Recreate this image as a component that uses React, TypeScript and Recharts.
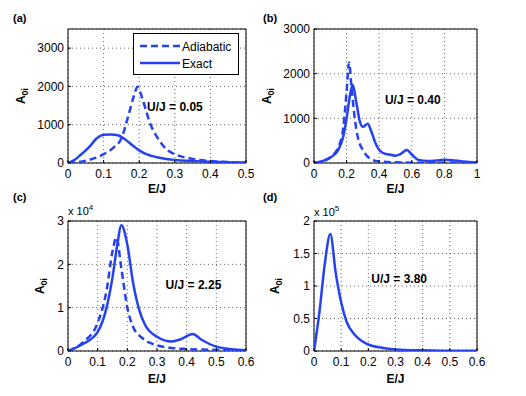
import React from "react";
import { LineChart, Line, XAxis, YAxis, CartesianGrid, ReferenceArea, ReferenceDot, Legend } from "recharts";

const BLUE = "#2442f2";
const FONT = "'Liberation Sans', Arial, Helvetica, sans-serif";

// [E/J, A_0i] pairs
const aAdiabatic = [[0, 0], [0.05, 60], [0.1, 230], [0.13, 420], [0.15, 640], [0.17, 1250], [0.185, 1750], [0.195, 1990], [0.21, 1650], [0.23, 1050], [0.25, 680], [0.28, 330], [0.3, 230], [0.35, 105], [0.4, 50], [0.45, 25], [0.5, 12]];
const aExact = [[0, 0], [0.02, 90], [0.035, 210], [0.06, 420], [0.08, 640], [0.1, 735], [0.12, 745], [0.14, 725], [0.16, 620], [0.18, 470], [0.2, 330], [0.22, 230], [0.25, 150], [0.28, 100], [0.3, 80], [0.35, 50], [0.4, 30], [0.45, 18], [0.5, 10]];

const bAdiabatic = [[0, 0], [0.05, 30], [0.1, 130], [0.15, 360], [0.18, 800], [0.2, 1600], [0.215, 2250], [0.23, 1700], [0.25, 1000], [0.27, 560], [0.3, 290], [0.33, 140], [0.36, 70], [0.4, 35], [0.5, 15], [0.6, 8], [0.8, 4], [1, 2]];
const bExact = [[0, 0], [0.05, 40], [0.1, 120], [0.15, 300], [0.18, 600], [0.2, 1000], [0.22, 1500], [0.237, 1750], [0.26, 1350], [0.28, 950], [0.3, 810], [0.33, 880], [0.35, 720], [0.38, 420], [0.42, 230], [0.46, 190], [0.5, 165], [0.53, 200], [0.57, 290], [0.6, 190], [0.64, 70], [0.7, 45], [0.75, 55], [0.8, 70], [0.85, 60], [0.9, 40], [0.95, 22], [1, 15]];

const cAdiabatic = [[0, 0], [0.05, 2000], [0.1, 6500], [0.13, 14000], [0.15, 23000], [0.163, 26200], [0.18, 19000], [0.2, 10000], [0.22, 5500], [0.25, 3000], [0.3, 1300], [0.35, 700], [0.4, 450], [0.5, 250], [0.6, 120]];
const cExact = [[0, 0], [0.05, 1600], [0.1, 4400], [0.13, 10000], [0.15, 17000], [0.165, 24000], [0.18, 29000], [0.2, 24500], [0.22, 15500], [0.24, 9500], [0.26, 6000], [0.3, 3300], [0.35, 2200], [0.38, 2700], [0.42, 3900], [0.45, 2600], [0.5, 1000], [0.55, 400], [0.6, 200]];

const dExact = [[0, 0], [0.02, 60000], [0.04, 135000], [0.06, 180000], [0.08, 120000], [0.1, 75000], [0.12, 45000], [0.15, 25000], [0.2, 10000], [0.25, 5000], [0.3, 2500], [0.4, 1000], [0.5, 500], [0.6, 300]];

const ticks05 = [0, 0.1, 0.2, 0.3, 0.4, 0.5];
const ticks1 = [0, 0.2, 0.4, 0.6, 0.8, 1];
const ticks06 = [0, 0.1, 0.2, 0.3, 0.4, 0.5, 0.6];

const toRows = (pts: number[][]) => pts.map(([e, a]) => ({ e, a }));

const tickStyle = { fill: "#000", fontSize: 12, fontFamily: FONT };

const LegendBox = (props: any) => {
  const items = (props.payload || []).slice().sort((p: any, q: any) => (p.value === "Adiabatic" ? -1 : 1));
  return (
    <svg width={107} height={43}>
      <rect x={0.5} y={0.5} width={105} height={41} fill="#fff" stroke="#000" />
      {items.map((it: any, i: number) => (
        <g key={it.value}>
          <line x1={7} x2={47} y1={13 + i * 17} y2={13 + i * 17} stroke={BLUE} strokeWidth={2.5}
            strokeDasharray={it.value === "Adiabatic" ? "7 4" : undefined} />
          <text x={49} y={17.5 + i * 17} fontSize={12} fontFamily={FONT} fill="#000">{it.value}</text>
        </g>
      ))}
    </svg>
  );
};

type PanelProps = {
  left: number; top: number; width: number; height: number;
  margin: { top: number; right: number; bottom: number; left: number };
  xMax: number; xTicks: number[]; yMax: number; yTicks: number[];
  yFmt: (v: number) => string;
  exact: number[][]; adiabatic?: number[][];
  note: string; noteAt: number[];
  yGap: number; xDy: number; legend?: boolean;
};

const Panel = (p: PanelProps) => (
  <div style={{ position: "absolute", left: p.left, top: p.top }}>
    <LineChart width={p.width} height={p.height} margin={p.margin}>
      <CartesianGrid stroke="#666" strokeDasharray="1 3" />
      <XAxis type="number" dataKey="e" domain={[0, p.xMax]} ticks={p.xTicks} interval={0}
        allowDataOverflow axisLine={false} tickLine={{ stroke: "#000" }} tickSize={-3} tickMargin={9}
        height={30} tick={tickStyle}
        label={(lp: any) => {
          const vb = lp.viewBox;
          return <text x={vb.x + vb.width / 2} y={vb.y + p.xDy} textAnchor="middle" fontSize={12}
            fontWeight="bold" fontFamily={FONT} fill="#000">E/J</text>;
        }} />
      <YAxis type="number" domain={[0, p.yMax]} ticks={p.yTicks} interval={0} allowDataOverflow
        axisLine={false} tickLine={{ stroke: "#000" }} tickSize={-3} tickMargin={7} width={50}
        tick={tickStyle} tickFormatter={p.yFmt}
        label={(lp: any) => {
          const vb = lp.viewBox;
          const cx = vb.x + vb.width - p.yGap;
          const cy = vb.y + vb.height / 2;
          return (
            <text x={cx} y={cy + 4} transform={`rotate(-90 ${cx} ${cy})`} textAnchor="middle"
              fontSize={12} fontWeight="bold" fontFamily={FONT} fill="#000">
              A<tspan fontSize={9} dy={3}>0i</tspan>
            </text>
          );
        }} />
      <ReferenceArea x1={0} x2={p.xMax} y1={0} y2={p.yMax} fill="none" fillOpacity={0} stroke="#000" strokeWidth={1} />
      {p.adiabatic && (
        <Line data={toRows(p.adiabatic)} dataKey="a" name="Adiabatic" type="monotone" stroke={BLUE}
          strokeWidth={2.5} strokeDasharray="7 4" dot={false} isAnimationActive={false} />
      )}
      <Line data={toRows(p.exact)} dataKey="a" name="Exact" type="monotone" stroke={BLUE}
        strokeWidth={2.5} dot={false} isAnimationActive={false} />
      <ReferenceDot x={p.noteAt[0]} y={p.noteAt[1]} r={0}
        shape={(sp: any) => (
          <text x={sp.cx} y={sp.cy} fontSize={12} fontWeight="bold" fontFamily={FONT} fill="#000">{p.note}</text>
        )} />
      {p.legend && (
        <Legend layout="vertical" align="center" verticalAlign="middle" content={LegendBox}
          wrapperStyle={{ left: 133 - p.left, top: 33 - p.top, width: 107, height: 43 }} />
      )}
    </LineChart>
  </div>
);

export default function App() {
  const label = { fontFamily: FONT, fontSize: 11, fontWeight: "bold" as const, fill: "#000" };
  return (
    <div style={{ position: "absolute", left: 0, top: 0, width: 526, height: 396, background: "#fff" }}>
      <Panel left={0} top={0} width={263} height={200} margin={{ top: 29, right: 17, bottom: 7, left: 18 }}
        xMax={0.5} xTicks={ticks05} yMax={3500} yTicks={[0, 1000, 2000, 3000]} yFmt={(v) => String(v)}
        exact={aExact} adiabatic={aAdiabatic} note="U/J = 0.05" noteAt={[0.222, 1360]} yGap={47} xDy={30} legend />
      <Panel left={253} top={0} width={273} height={200} margin={{ top: 29, right: 49, bottom: 7, left: 11 }}
        xMax={1} xTicks={ticks1} yMax={3000} yTicks={[0, 1000, 2000, 3000]} yFmt={(v) => String(v)}
        exact={bExact} adiabatic={bAdiabatic} note="U/J = 0.40" noteAt={[0.435, 1320]} yGap={47} xDy={30} />
      <Panel left={0} top={196} width={263} height={200} margin={{ top: 25, right: 17, bottom: 15, left: 18 }}
        xMax={0.6} xTicks={ticks06} yMax={30000} yTicks={[0, 10000, 20000, 30000]} yFmt={(v) => String(v / 1e4)}
        exact={cExact} adiabatic={cAdiabatic} note="U/J = 2.25" noteAt={[0.329, 14240]} yGap={28} xDy={32} />
      <Panel left={253} top={196} width={273} height={200} margin={{ top: 25, right: 49, bottom: 15, left: 11 }}
        xMax={0.6} xTicks={ticks06} yMax={200000} yTicks={[0, 50000, 100000, 150000, 200000]} yFmt={(v) => String(v / 1e5)}
        exact={dExact} note="U/J = 3.80" noteAt={[0.211, 104100]} yGap={39} xDy={32} />
      <svg width={526} height={396} style={{ position: "absolute", left: 0, top: 0, pointerEvents: "none" }}>
        <text x={13} y={22} {...label}>(a)</text>
        <text x={263} y={22} {...label}>(b)</text>
        <text x={13} y={201} {...label}>(c)</text>
        <text x={263} y={201} {...label}>(d)</text>
        <text x={68} y={215} fontFamily={FONT} fontSize={11} fill="#000">x 10<tspan fontSize={8} dy={-5}>4</tspan></text>
        <text x={314} y={216} fontFamily={FONT} fontSize={11} fill="#000">x 10<tspan fontSize={8} dy={-5}>5</tspan></text>
      </svg>
    </div>
  );
}
